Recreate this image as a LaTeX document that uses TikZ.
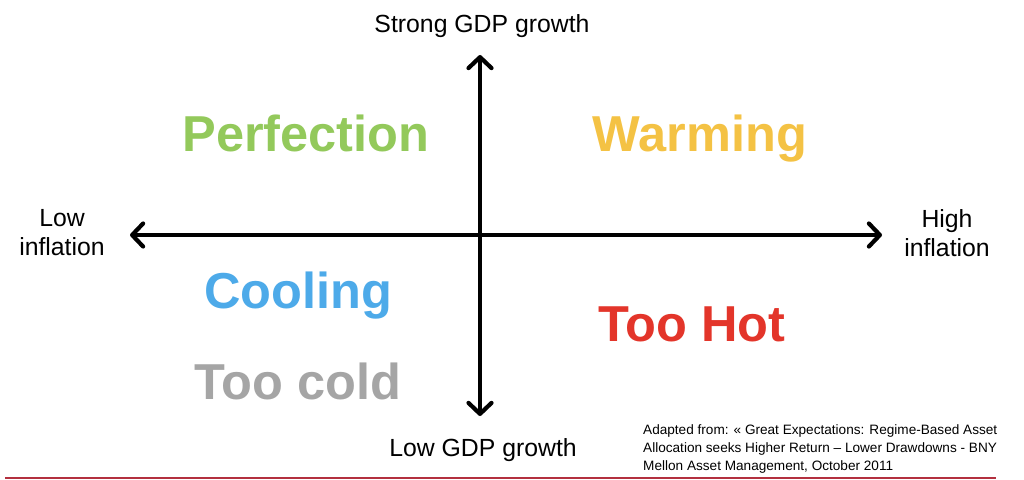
\documentclass[tikz,border=0pt]{standalone}
\usepackage{fontspec}
\setmainfont{Liberation Sans}
\usetikzlibrary{arrows.meta}
\definecolor{cgreen}{HTML}{93C95B}
\definecolor{cyellow}{HTML}{F4C244}
\definecolor{cblue}{HTML}{4DAAE9}
\definecolor{cred}{HTML}{E3352A}
\definecolor{cgray}{HTML}{A5A5A5}
\definecolor{cline}{HTML}{B3303F}
\tikzset{
  axis/.style={line width=4.2pt, -{Straight Barb[length=11pt,width=23pt,line width=4.2pt,round]}, line cap=butt},
  axlabel/.style={font=\fontsize{24.8}{29}\selectfont, align=center, inner sep=0pt},
  regime/.style={font=\fontsize{50.5}{55}\selectfont\bfseries, inner sep=0pt, anchor=base},
  cite/.style={font=\fontsize{13.6}{18}\selectfont, align=left, inner sep=0pt, anchor=north west}
}
\begin{document}
\begin{tikzpicture}[x=1pt,y=-1pt]
\useasboundingbox (0,0) rectangle (1024,479);
\coordinate (ctr) at (480,235);
\coordinate (left) at (130,235);
\coordinate (right) at (882,235);
\coordinate (top) at (480,55);
\coordinate (bot) at (480,416);
\draw[axis] (ctr) -- (left);
\draw[axis] (ctr) -- (right);
\draw[axis] (ctr) -- (top);
\draw[axis] (ctr) -- (bot);
\node[axlabel] (strong) at (482,26) {Strong GDP growth};
\node[axlabel] (lowgdp) at (483,450) {Low GDP growth};
\node[axlabel] (lowinf) at (62,233) {Low\\inflation};
\node[axlabel] (highinf) at (947,233) {High\\inflation};
\node[regime, text=cgreen] (perf) at (306,151) {Perfection};
\node[regime, text=cyellow] (warm) at (700,151) {Warming};
\node[regime, text=cblue] (cool) at (298,308) {Cooling};
\node[regime, text=cred] (hot) at (692,341) {Too Hot};
\node[regime, text=cgray] (cold) at (298,399) {Too cold};
\node[cite] (ref) at (643,424.5) {Adapted from: « Great Expectations: Regime-Based Asset\\Allocation seeks Higher Return -- Lower Drawdowns - BNY\\Mellon Asset Management, October 2011};
\coordinate (la) at (5,477.5);
\coordinate (lb) at (996,477.5);
\draw[cline, line width=2pt] (la) -- (lb);
\end{tikzpicture}
\end{document}
